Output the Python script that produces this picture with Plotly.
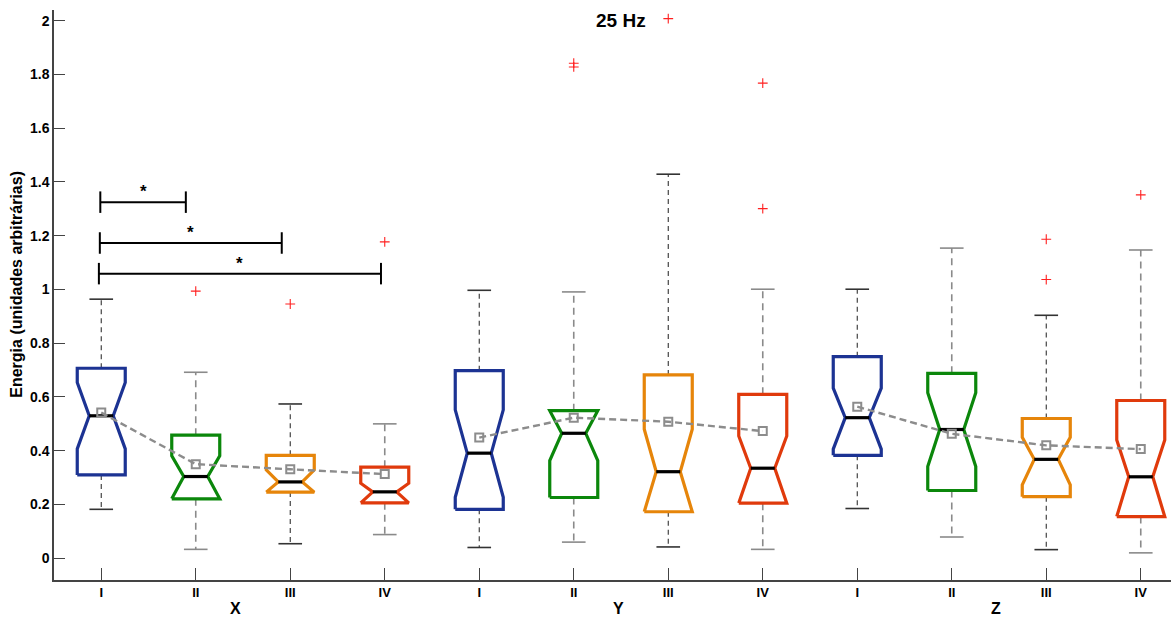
import plotly.graph_objects as go

# ---------------- data ----------------
positions = list(range(1, 13))
tick_text = ["I", "II", "III", "IV"] * 3
group_labels = ["X", "Y", "Z"]
group_label_x = [2.42, 6.47, 10.47]

q1 =      [0.310, 0.221, 0.246, 0.206, 0.182, 0.226, 0.173, 0.205, 0.383, 0.252, 0.229, 0.155]
q3 =      [0.707, 0.458, 0.383, 0.339, 0.698, 0.549, 0.682, 0.610, 0.750, 0.688, 0.520, 0.587]
medians = [0.530, 0.304, 0.284, 0.247, 0.391, 0.465, 0.322, 0.335, 0.523, 0.479, 0.368, 0.303]
notch_lo = [0.407, 0.221, 0.246, 0.206, 0.227, 0.363, 0.173, 0.205, 0.406, 0.341, 0.273, 0.155]
notch_hi = [0.654, 0.381, 0.329, 0.279, 0.552, 0.549, 0.480, 0.455, 0.633, 0.616, 0.450, 0.440]
whisk_lo = [0.182, 0.033, 0.054, 0.088, 0.040, 0.060, 0.042, 0.033, 0.185, 0.079, 0.032, 0.020]
whisk_hi = [0.964, 0.692, 0.574, 0.500, 0.997, 0.991, 1.429, 1.001, 1.001, 1.154, 0.904, 1.147]
means =   [0.542, 0.350, 0.331, 0.313, 0.449, 0.523, 0.508, 0.473, 0.564, 0.463, 0.420, 0.406]

outlier_pos = [2, 3, 4, 6, 6, 7, 8, 8, 11, 11, 12]
outlier_val = [0.994, 0.946, 1.177, 1.842, 1.828, 2.008, 1.768, 1.301, 1.187, 1.037, 1.352]

sig_from = [0.99, 0.985, 0.975]
sig_to = [1.895, 2.91, 3.96]
sig_y = [1.325, 1.173, 1.059]
sig_text = ["*", "*", "*"]

colors = ["#1c3393", "#0b870b", "#e6850a", "#e03a0c"] * 3

# ---------------- styling constants ----------------
BOX_HW = 0.254
NOTCH_HW = 0.127
CAP_HW = 0.125
SIG_CAP = 0.04
FONT = "Liberation Sans"

fig = go.Figure()

# whiskers (odd dark, even gray)
for parity, wcol, wdash, wwidth in [(0, "#333333", "5px,4px", 1.1), (1, "#8a8a8a", "7px,5px", 1.6)]:
    xs, ys = [], []
    cx, cy = [], []
    for i, p in enumerate(positions):
        if i % 2 != parity:
            continue
        xs += [p, p, None, p, p, None]
        ys += [q3[i], whisk_hi[i], None, q1[i], whisk_lo[i], None]
        cx += [p - CAP_HW, p + CAP_HW, None, p - CAP_HW, p + CAP_HW, None]
        cy += [whisk_hi[i], whisk_hi[i], None, whisk_lo[i], whisk_lo[i], None]
    fig.add_trace(go.Scatter(x=xs, y=ys, mode="lines",
                             line=dict(color=wcol, width=wwidth, dash=wdash),
                             hoverinfo="skip", showlegend=False))
    fig.add_trace(go.Scatter(x=cx, y=cy, mode="lines",
                             line=dict(color=wcol, width=1.6),
                             hoverinfo="skip", showlegend=False))

# notched boxes
for i, p in enumerate(positions):
    bx = [p - BOX_HW, p - BOX_HW, p - NOTCH_HW, p - BOX_HW, p - BOX_HW,
          p + BOX_HW, p + BOX_HW, p + NOTCH_HW, p + BOX_HW, p + BOX_HW, p - BOX_HW]
    by = [q1[i], notch_lo[i], medians[i], notch_hi[i], q3[i],
          q3[i], notch_hi[i], medians[i], notch_lo[i], q1[i], q1[i]]
    fig.add_trace(go.Scatter(x=bx, y=by, mode="lines",
                             line=dict(color=colors[i], width=3.2),
                             hoverinfo="skip", showlegend=False))
    fig.add_trace(go.Scatter(x=[p - NOTCH_HW, p + NOTCH_HW], y=[medians[i], medians[i]],
                             mode="lines", line=dict(color="black", width=3.2),
                             hoverinfo="skip", showlegend=False))

# outliers
fig.add_trace(go.Scatter(x=outlier_pos, y=outlier_val, mode="markers",
                         marker=dict(symbol="cross-thin", size=7,
                                     line=dict(color="#ff2020", width=1.1)),
                         hoverinfo="skip", showlegend=False))

# means (dashed line per group)
for g in range(3):
    sl = slice(4 * g, 4 * g + 4)
    fig.add_trace(go.Scatter(x=positions[sl], y=means[sl], mode="lines+markers",
                             line=dict(color="#8c8c8c", width=2.4, dash="7px,4px"),
                             marker=dict(symbol="square-open", size=8,
                                         line=dict(color="#8c8c8c", width=2)),
                             hoverinfo="skip", showlegend=False))

# significance bars
sx, sy = [], []
for a, b, y in zip(sig_from, sig_to, sig_y):
    sx += [a, b, None, a, a, None, b, b, None]
    sy += [y, y, None, y - SIG_CAP, y + SIG_CAP, None, y - SIG_CAP, y + SIG_CAP, None]
fig.add_trace(go.Scatter(x=sx, y=sy, mode="lines", line=dict(color="black", width=2),
                         hoverinfo="skip", showlegend=False))

annotations = []
for a, b, y, t in zip(sig_from, sig_to, sig_y, sig_text):
    annotations.append(dict(x=(a + b) / 2, y=y, xref="x", yref="y", text=t,
                            showarrow=False, yanchor="bottom", yshift=-1,
                            font=dict(family=FONT, size=17, color="black", weight="bold")))

for lbl, gx in zip(group_labels, group_label_x):
    annotations.append(dict(x=gx, y=0, xref="x", yref="paper", text=lbl, showarrow=False,
                            yanchor="middle", yshift=-28,
                            font=dict(family=FONT, size=16, color="black", weight="bold")))

annotations.append(dict(x=0, y=0.518, xref="paper", yref="paper",
                        text="Energia (unidades arbitrárias)", textangle=-90,
                        showarrow=False, xanchor="center", yanchor="middle", xshift=-37,
                        font=dict(family=FONT, size=16, color="black", weight="bold")))
annotations.append(dict(x=0.5076, y=0.981, xref="paper", yref="paper", text="25 Hz",
                        showarrow=False, xanchor="center", yanchor="middle",
                        font=dict(family=FONT, size=19, color="black", weight="bold")))

fig.update_layout(
    width=1171, height=617,
    margin=dict(l=54, r=0, t=10, b=37),
    plot_bgcolor="white", paper_bgcolor="white",
    annotations=annotations,
    xaxis=dict(range=[0.5, 12.32], tickmode="array", tickvals=positions, ticktext=tick_text,
               ticks="inside", ticklen=12, tickwidth=1.2, tickcolor="#444444",
               showline=True, linecolor="#444444", linewidth=1.5, showgrid=False, zeroline=False,
               tickfont=dict(family=FONT, size=13, color="black", weight="bold")),
    yaxis=dict(range=[-0.081, 2.040], tickmode="array",
               tickvals=[0, 0.2, 0.4, 0.6, 0.8, 1, 1.2, 1.4, 1.6, 1.8, 2],
               ticktext=["0", "0.2", "0.4", "0.6", "0.8", "1", "1.2", "1.4", "1.6", "1.8", "2"],
               ticks="inside", ticklen=11, tickwidth=1.2, tickcolor="#444444",
               showline=True, linecolor="#444444", linewidth=1.5, showgrid=False, zeroline=False,
               tickfont=dict(family=FONT, size=14, color="black", weight="bold")),
)

fig.write_html("out.html")
